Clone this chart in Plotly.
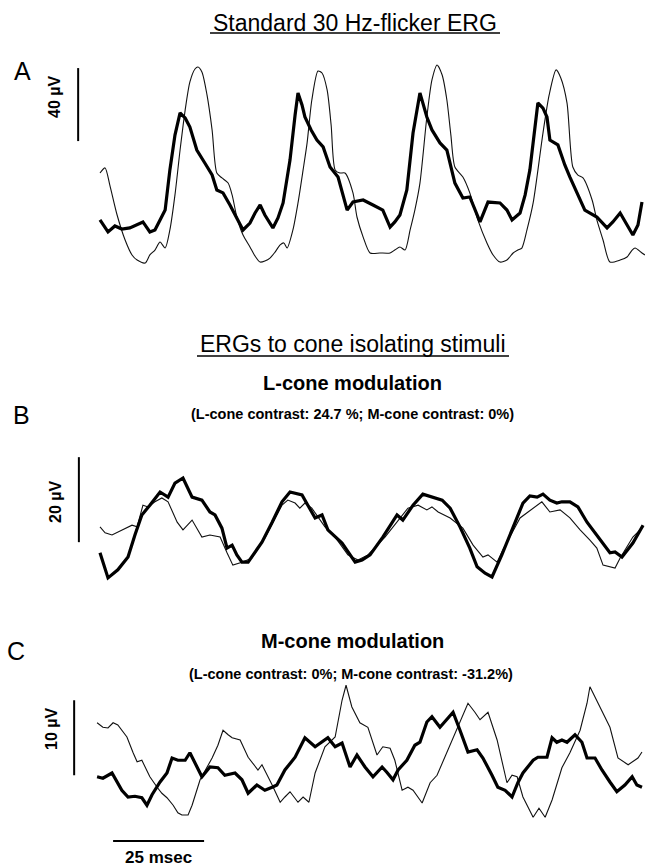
import plotly.graph_objects as go

W, H = 645, 866
FONT = "Arial, 'Liberation Sans', Helvetica, sans-serif"

# ---------------- Panel A: standard 30 Hz flicker ERG (time ms, amplitude µV)
a_thick_t = [0, 2.2, 4.1, 6.0, 8.2, 10.4, 11.8, 13.7, 15.1, 16.5, 17.9, 19.2, 20.6, 22.0, 23.4, 24.7,
             26.6, 28.8, 30.8, 32.1, 33.8, 35.7, 37.6, 39.3, 41.2, 42.6, 44.0, 45.3, 47.5, 48.9, 50.3,
             52.2, 53.6, 54.4, 55.5, 56.3, 58.0, 59.6, 61.3, 63.2, 65.4, 67.9, 69.5, 72.3, 75.0, 77.7,
             79.7, 81.0, 82.4, 84.3, 86.0, 87.9, 89.8, 91.2, 93.4, 95.3, 97.5, 99.7, 101.6, 104.4,
             106.6, 109.9, 111.8, 113.2, 115.4, 116.8, 118.1, 119.5, 120.3, 121.7, 122.8, 123.6,
             125.8, 127.7, 129.1, 133.2, 136.5, 139.3, 140.9, 142.9, 144.8, 146.4, 147.8, 148.9]
a_thick_uv = [24.7, 18.1, 21.4, 19.7, 20.3, 22.5, 23.6, 18.1, 19.2, 24.7, 30.1, 52.1, 71.2, 83.3, 80.6,
              75.6, 63.0, 55.9, 49.3, 41.1, 39.5, 32.9, 25.8, 19.2, 23.0, 28.5, 32.9, 27.4, 20.3, 25.8,
              34.0, 57.5, 82.2, 94.3, 87.7, 81.1, 74.0, 68.5, 64.7, 53.7, 48.2, 30.1, 34.5, 35.6, 32.9,
              30.1, 20.8, 23.6, 27.4, 41.1, 72.3, 94.3, 81.1, 74.0, 66.9, 63.0, 44.9, 36.7, 37.3, 23.6,
              34.5, 34.0, 30.1, 24.7, 28.5, 38.4, 52.1, 76.7, 88.8, 86.0, 81.1, 68.5, 65.8, 54.8, 48.2,
              30.1, 26.3, 20.3, 23.6, 28.5, 21.9, 16.4, 21.9, 34.5]
a_thin_t = [0, 1.4, 2.7, 4.7, 6.9, 8.8, 10.2, 12.4, 13.7, 15.1, 16.5, 17.9, 19.2, 20.6, 22.0, 23.4, 24.7,
            26.1, 26.9, 28.0, 29.4, 30.8, 32.1, 33.5, 35.2, 36.3, 37.6, 39.3, 41.2, 42.6, 44.0, 45.3,
            46.7, 48.1, 49.5, 50.5, 51.4, 53.0, 54.4, 55.8, 56.9, 58.2, 59.9, 61.0, 62.4, 63.5, 64.6,
            65.9, 67.3, 69.5, 70.6, 72.3, 74.2, 76.9, 79.7, 81.0, 82.4, 83.8, 85.2, 86.5, 87.9, 89.8,
            91.2, 92.6, 94.0, 95.3, 96.4, 97.5, 99.7, 101.6, 103.8, 106.3, 108.0, 109.9, 111.8, 113.5,
            114.8, 115.9, 117.3, 119.0, 121.7, 123.4, 125.3, 126.6, 128.3, 129.9, 131.3, 132.7, 135.2,
            136.5, 138.2, 140.1, 142.9, 144.8, 146.2, 147.0, 148.9, 149.7]
a_thin_uv = [50.4, 53.2, 43.8, 27.4, 13.7, 5.5, 2.7, 1.1, 5.5, 8.2, 12.6, 9.3, 19.2, 38.4, 63.0, 84.9,
             100.3, 107.4, 108.5, 105.8, 93.2, 74.0, 50.4, 47.7, 44.9, 38.4, 26.3, 16.4, 9.9, 4.9, 1.6,
             2.2, 3.8, 7.1, 11.0, 12.1, 9.3, 19.2, 34.0, 52.1, 66.9, 90.4, 106.3, 105.2, 95.9, 76.7,
             52.1, 50.4, 50.4, 39.5, 26.3, 15.3, 6.6, 6.6, 6.6, 8.2, 9.9, 8.2, 19.2, 30.1, 44.9, 81.1,
             101.4, 109.6, 104.1, 90.4, 71.2, 53.7, 48.2, 39.5, 24.7, 12.1, 5.5, 1.6, 2.7, 6.6, 8.2,
             9.3, 19.2, 34.0, 72.3, 93.2, 106.9, 102.5, 88.8, 53.7, 49.3, 47.7, 35.6, 24.7, 13.7, 1.6,
             2.7, 4.4, 8.2, 9.3, 6.6, 5.5]

# ---------------- Panel B: L-cone modulation
b_thick_t = [0, 2.2, 4.9, 7.7, 9.6, 11.5, 13.7, 16.5, 18.7, 20.6, 22.8, 23.9, 25.3, 28.0, 30.2, 31.6,
             33.5, 34.9, 36.3, 37.6, 39.0, 40.7, 42.6, 44.5, 47.3, 50.0, 52.2, 55.5, 57.1, 59.1, 61.0,
             62.6, 66.5, 70.1, 72.0, 74.2, 77.7, 81.6, 83.2, 86.0, 88.7, 91.5, 94.0, 96.2, 98.9, 101.6,
             103.6, 105.8, 107.7, 110.4, 113.5, 116.2, 118.1, 120.1, 121.7, 123.6, 125.5, 126.9, 129.1,
             131.3, 133.8, 137.4, 140.1, 141.5, 143.4, 146.4, 149.2]
b_thick_uv = [6.4, 0.5, 2.4, 5.4, 10.6, 15.3, 17.6, 20.7, 19.5, 22.8, 24.0, 21.9, 19.5, 18.8, 16.0,
              15.3, 12.2, 7.5, 8.2, 5.9, 4.2, 4.2, 6.4, 8.9, 13.6, 18.4, 20.7, 20.0, 17.6, 14.6, 15.3,
              11.8, 8.7, 4.2, 4.7, 5.9, 10.1, 15.3, 14.1, 17.6, 20.2, 19.5, 18.8, 16.9, 12.5, 7.5, 3.1,
              1.6, 0.7, 5.9, 12.2, 18.1, 19.8, 19.5, 20.2, 18.8, 18.1, 18.4, 18.4, 17.2, 13.6, 9.4, 6.4,
              6.6, 5.4, 8.7, 12.9]
b_thin_t = [0, 1.4, 3.3, 6.0, 8.8, 10.2, 11.8, 13.2, 15.1, 17.0, 18.7, 21.2, 22.8, 25.3, 28.0, 30.2,
            33.0, 34.9, 36.5, 39.0, 41.8, 45.3, 50.0, 51.6, 53.6, 54.9, 56.3, 58.2, 61.8, 64.6, 68.1,
            70.9, 73.6, 78.3, 82.4, 84.6, 87.4, 89.8, 91.2, 92.9, 96.2, 99.7, 102.5, 105.2, 106.6,
            109.1, 110.7, 115.4, 117.6, 121.4, 123.6, 126.4, 129.1, 131.9, 134.6, 136.5, 138.2, 141.5,
            142.9, 146.4, 149.2]
b_thin_uv = [12.5, 11.1, 10.6, 11.8, 12.9, 12.5, 17.6, 17.2, 18.4, 19.3, 18.4, 13.6, 11.8, 14.1, 10.1,
             10.6, 10.1, 6.4, 3.5, 4.2, 5.2, 9.9, 17.6, 18.8, 18.1, 16.9, 18.1, 16.9, 12.5, 10.1, 5.9,
             4.7, 5.9, 10.1, 14.6, 16.9, 17.6, 16.5, 17.2, 16.0, 14.6, 12.2, 8.2, 5.4, 5.9, 4.2, 7.1,
             14.6, 16.0, 18.4, 16.0, 16.5, 14.6, 11.8, 9.4, 7.5, 3.5, 2.8, 5.2, 10.1, 12.5]

# ---------------- Panel C: M-cone modulation
c_thick_t = [-0.8, 0.8, 3.3, 4.9, 6.0, 7.7, 9.6, 11.5, 12.9, 14.3, 16.5, 18.4, 19.8, 21.4, 23.4, 24.7,
             26.6, 28.0, 30.2, 32.4, 34.3, 37.1, 39.0, 40.7, 43.1, 45.3, 47.3, 48.6, 50.8, 53.6, 56.3,
             59.1, 62.6, 64.6, 66.5, 68.7, 70.6, 72.8, 75.0, 77.5, 78.8, 80.5, 81.9, 84.3, 86.5, 87.9,
             89.8, 91.2, 93.4, 95.3, 97.0, 98.9, 101.1, 103.6, 105.2, 107.7, 109.3, 111.3, 113.2, 114.8,
             116.2, 119.0, 120.3, 122.8, 124.2, 125.5, 126.9, 128.3, 130.5, 132.4, 133.8, 136.0, 137.9,
             140.1, 142.0, 144.2, 146.2, 147.5, 148.9]
c_thick_uv = [5.5, 5.3, 6.0, 4.7, 3.7, 2.8, 2.9, 2.7, 1.7, 3.1, 4.8, 6.0, 8.0, 7.7, 7.7, 8.7, 6.8, 5.5,
              6.8, 6.7, 5.7, 6.0, 5.1, 3.3, 4.4, 3.7, 4.1, 4.4, 6.4, 8.1, 10.7, 9.5, 10.7, 9.5, 10.0,
              6.8, 8.4, 6.8, 5.5, 6.8, 6.1, 5.1, 6.4, 7.7, 9.7, 10.1, 12.8, 13.5, 12.1, 13.1, 14.1, 11.7,
              8.8, 9.1, 8.0, 5.7, 4.1, 3.7, 2.8, 4.7, 6.0, 7.7, 8.1, 8.1, 10.7, 10.1, 10.4, 10.1, 11.1,
              10.1, 8.0, 8.0, 6.4, 4.8, 3.5, 4.4, 5.5, 4.4, 4.1]
c_thin_t = [-0.8, 0.8, 2.2, 3.6, 4.9, 7.4, 9.1, 10.2, 11.5, 13.7, 15.7, 17.0, 18.4, 20.1, 21.4, 22.5,
            24.2, 25.3, 27.5, 29.4, 30.8, 32.4, 33.8, 35.2, 36.3, 38.5, 40.7, 43.4, 44.5, 47.3, 49.5,
            50.8, 52.2, 54.4, 55.8, 57.4, 59.1, 61.8, 64.6, 66.5, 67.6, 69.2, 71.4, 73.6, 74.7, 76.1,
            77.7, 79.7, 81.0, 83.0, 84.6, 86.0, 88.5, 90.7, 92.6, 95.3, 98.1, 101.1, 103.0, 104.4,
            106.6, 109.1, 111.8, 113.2, 114.6, 116.2, 119.0, 120.6, 122.3, 124.2, 126.9, 129.1, 131.9,
            133.8, 134.6, 136.5, 140.1, 142.3, 145.1, 147.8, 148.9]
c_thin_uv = [12.7, 12.1, 12.0, 12.7, 12.4, 10.8, 8.7, 7.5, 7.7, 5.5, 4.1, 3.3, 2.7, 1.7, 0.7, 0.4, 0.4,
             1.7, 5.1, 6.8, 8.0, 9.7, 11.7, 11.1, 10.7, 10.4, 8.1, 6.4, 7.1, 4.4, 2.1, 2.8, 3.5, 2.1,
             2.8, 2.1, 6.0, 9.5, 10.8, 15.7, 17.7, 14.8, 12.7, 12.1, 10.4, 8.4, 9.5, 9.3, 7.7, 3.7, 4.1,
             3.7, 2.0, 4.7, 5.7, 8.8, 12.1, 15.3, 14.1, 13.1, 14.1, 10.4, 4.7, 5.7, 5.5, 2.8, 0.1, 1.3,
             0.1, 2.4, 6.7, 8.7, 11.7, 15.3, 17.5, 15.7, 12.1, 8.0, 7.1, 8.0, 8.8]

# ---------------- Scale bars
scale_uv = {"A": 40, "B": 20, "C": 10}
scale_ms = 25

# ---------------- Texts
title_top = "Standard 30 Hz-flicker ERG"
title_mid = "ERGs to cone isolating stimuli"
sub_b = "L-cone modulation"
note_b = "(L-cone contrast: 24.7 %; M-cone contrast: 0%)"
sub_c = "M-cone modulation"
note_c = "(L-cone contrast: 0%; M-cone contrast: -31.2%)"

# ---------------- Layout helpers (pixel -> paper)
def px(x):
    return x / W

def py(y):
    return 1 - y / H

X_RANGE = [-27.47, 149.73]

fig = go.Figure()

def add_traces(xa, ya, thin_t, thin_v, thick_t, thick_v, smooth_thin=False):
    thin_line = dict(color="#111111", width=1.1)
    if smooth_thin:
        thin_line.update(shape="spline", smoothing=0.7)
    fig.add_trace(go.Scatter(x=thin_t, y=thin_v, xaxis=xa, yaxis=ya, mode="lines",
                             line=thin_line, showlegend=False, hoverinfo="skip"))
    fig.add_trace(go.Scatter(x=thick_t, y=thick_v, xaxis=xa, yaxis=ya, mode="lines",
                             line=dict(color="#000000", width=3.2),
                             showlegend=False, hoverinfo="skip"))

add_traces("x", "y", a_thin_t, a_thin_uv, a_thick_t, a_thick_uv, smooth_thin=True)
add_traces("x2", "y2", b_thin_t, b_thin_uv, b_thick_t, b_thick_uv)
add_traces("x3", "y3", c_thin_t, c_thin_uv, c_thick_t, c_thick_uv)

# vertical scale bars
def vbar(xa, ya, t, v0, size):
    fig.add_trace(go.Scatter(x=[t, t], y=[v0, v0 + size], xaxis=xa, yaxis=ya, mode="lines",
                             line=dict(color="black", width=2), showlegend=False, hoverinfo="skip"))

vbar("x", "y", -6.0, 67.9, scale_uv["A"])
vbar("x2", "y2", -5.8, 8.9, scale_uv["B"])
vbar("x3", "y3", -7.1, 5.7, scale_uv["C"])
# horizontal time bar
fig.add_trace(go.Scatter(x=[3.6, 3.6 + scale_ms], y=[-3.07, -3.07], xaxis="x3", yaxis="y3", mode="lines",
                         line=dict(color="black", width=2), showlegend=False, hoverinfo="skip"))

ax_common = dict(visible=False, showgrid=False, zeroline=False, range=X_RANGE, domain=[0, 1], fixedrange=True)
fig.update_layout(
    width=W, height=H, margin=dict(l=0, r=0, t=0, b=0),
    paper_bgcolor="white", plot_bgcolor="white",
    xaxis=dict(**ax_common, anchor="y"),
    xaxis2=dict(**ax_common, anchor="y2"),
    xaxis3=dict(**ax_common, anchor="y3"),
    yaxis=dict(visible=False, showgrid=False, zeroline=False, anchor="x", fixedrange=True,
               domain=[py(290), py(40)], range=[(265 - 290) / 1.825, (265 - 40) / 1.825]),
    yaxis2=dict(visible=False, showgrid=False, zeroline=False, anchor="x2", fixedrange=True,
                domain=[py(600), py(440)], range=[(580 - 600) / 4.25, (580 - 440) / 4.25]),
    yaxis3=dict(visible=False, showgrid=False, zeroline=False, anchor="x3", fixedrange=True,
                domain=[0, py(680)], range=[(818 - 866) / 7.5, (818 - 680) / 7.5]),
    font=dict(family=FONT, color="black"),
)

def ann(text, x, y, size, bold=False, angle=0):
    t = f"<b>{text}</b>" if bold else text
    fig.add_annotation(text=t, x=px(x), y=py(y), xref="paper", yref="paper", showarrow=False,
                       xanchor="center", yanchor="middle", textangle=angle,
                       font=dict(family=FONT, size=size, color="black"))

ann(title_top, 355, 23, 23)
ann(title_mid, 353, 344, 23)
ann(sub_b, 353, 383, 20, bold=True)
ann(note_b, 352, 414, 14.5, bold=True)
ann(sub_c, 353, 641, 20, bold=True)
ann(note_c, 351, 674, 14.5, bold=True)
ann("A", 22, 71, 25)
ann("B", 21, 415, 25)
ann("C", 16, 651, 25)
ann(f"{scale_uv['A']} µV", 54, 97, 16, bold=True, angle=-90)
ann(f"{scale_uv['B']} µV", 55, 502, 16, bold=True, angle=-90)
ann(f"{scale_uv['C']} µV", 51, 729, 16, bold=True, angle=-90)
ann(f"{scale_ms} msec", 158, 857, 17, bold=True)

# underlines of the section titles
for x0, x1, yy in [(210, 500, 33), (197, 509, 356)]:
    fig.add_shape(type="line", xref="paper", yref="paper", x0=px(x0), x1=px(x1), y0=py(yy), y1=py(yy),
                  line=dict(color="black", width=1.3))

fig.write_html("out.html")
